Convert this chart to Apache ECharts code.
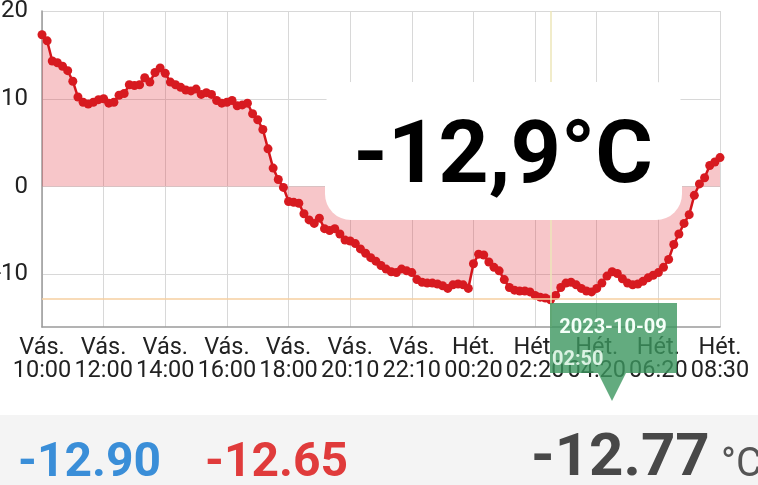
<!DOCTYPE html>
<html>
<head>
<meta charset="utf-8">
<script src="https://cdn.jsdelivr.net/npm/echarts@6/dist/echarts.min.js"></script>
<style>
html,body{margin:0;padding:0;background:#fff;}
#c{width:758px;height:485px;}
</style>
</head>
<body>
<div id="c"></div>
<script>
// ---- data ----
var days = ['Vás.', 'Hét.'];
var startTime = '10:00';
var skippedTimes = ['19:10', '23:20', '07:30'];
var temps = [
  17.3, 16.6, 14.3, 14.1, 13.7, 13.2, 12.0, 10.2, 9.6, 9.4,
  9.6, 9.9, 10.0, 9.5, 9.6, 10.4, 10.6, 11.6, 11.5, 11.6,
  12.4, 11.9, 13.0, 13.5, 12.9, 11.9, 11.6, 11.3, 11.0, 10.9,
  11.1, 10.5, 10.7, 10.5, 9.8, 9.5, 9.6, 9.8, 9.2, 9.3,
  9.5, 8.3, 7.6, 6.5, 4.3, 2.1, 0.8, -0.1, -1.7, -1.8,
  -1.9, -3.1, -3.8, -4.2, -3.6, -4.8, -5.0, -4.8, -5.4, -6.1,
  -6.2, -6.5, -7.1, -7.6, -8.1, -8.5, -9.0, -9.4, -9.7, -9.8,
  -9.4, -9.6, -9.8, -10.6, -10.9, -11.0, -11.0, -11.1, -11.3, -11.6,
  -11.2, -11.1, -11.2, -11.6, -8.8, -7.7, -7.8, -8.6, -9.2, -9.6,
  -10.6, -11.5, -11.8, -11.9, -11.9, -12.0, -12.4, -12.6, -12.7, -12.9,
  -12.4, -11.5, -11.0, -10.9, -11.2, -11.6, -11.9, -12.0, -11.6, -11.0,
  -10.2, -9.7, -9.9, -10.5, -11.0, -11.2, -11.1, -10.8, -10.4, -10.1,
  -9.8, -9.2, -8.3, -6.6, -5.4, -4.2, -3.2, -1.0, 0.3, 1.0,
  2.4, 2.8, 3.3
];
var yTicks = [-10, 0, 10, 20];
var minValue = -12.90;
var maxValue = -12.65;
var avgValue = -12.77;
var currentLabel = '-12,9°C';
var pointerDate = '2023-10-09';
var pointerTime = '02:50';

// categories: 10-minute timestamps (a few missing)
var categories = [];
(function () {
  var p = startTime.split(':');
  var m = (+p[0]) * 60 + (+p[1]);
  var day = 0;
  while (categories.length < temps.length) {
    var hh = Math.floor(m / 60) % 24, mm = m % 60;
    if (m >= 24 * 60) day = 1;
    var t = (hh < 10 ? '0' : '') + hh + ':' + (mm < 10 ? '0' : '') + mm;
    if (skippedTimes.indexOf(t) < 0) categories.push(days[day] + '\n' + t);
    m += 10;
  }
})();
var minIndex = temps.indexOf(Math.min.apply(null, temps));

var chart = echarts.init(document.getElementById('c'));
var FONT = 'Roboto, "Noto Sans", sans-serif';
chart.setOption({
  animation: false,
  backgroundColor: '#ffffff',
  textStyle: { fontFamily: FONT },
  grid: { left: 42, right: 38, top: 11, bottom: 158, containLabel: false, outerBoundsMode: 'none' },
  xAxis: {
    type: 'category',
    data: categories,
    boundaryGap: false,
    axisLine: { onZero: false, lineStyle: { color: '#9a9a9a', width: 1.5 } },
    axisTick: { show: false },
    axisLabel: {
      interval: 11, color: '#222', fontSize: 23.5, lineHeight: 23, margin: 10,
      fontFamily: FONT
    },
    splitLine: { show: true, interval: 11, lineStyle: { color: '#d8d8d8', width: 1 } }
  },
  yAxis: {
    type: 'value',
    min: -16, max: 20,
    axisLine: { show: true, onZero: false, lineStyle: { color: '#9a9a9a', width: 1.5 } },
    axisTick: { show: false, customValues: yTicks },
    axisLabel: { customValues: yTicks, color: '#222', fontSize: 24, margin: 14, fontFamily: FONT },
    splitLine: { show: true, lineStyle: { color: '#d8d8d8', width: 1 } }
  },
  series: [{
    type: 'line',
    data: temps,
    symbol: 'circle',
    symbolSize: 9,
    showSymbol: true,
    showAllSymbol: true,
    lineStyle: { color: '#d4151b', width: 2.5 },
    itemStyle: { color: '#d71a20' },
    areaStyle: { color: 'rgba(228,50,62,0.4)' },
    markLine: {
      silent: true,
      symbol: 'none',
      label: { show: false },
      data: [
        { yAxis: avgValue, lineStyle: { color: '#f6cfa0', width: 1.5, type: 'solid' } },
        { xAxis: minIndex, lineStyle: { color: '#ece6b8', width: 1.5, type: 'solid' } }
      ]
    }
  }],
  graphic: [
    {
      type: 'rect', z: 100,
      shape: { x: 325, y: 82, width: 357, height: 138, r: 26 },
      style: { fill: '#ffffff' }
    },
    {
      type: 'text', z: 101, x: 503, y: 160,
      style: { text: currentLabel, fill: '#000', font: 'bold 88px ' + FONT, align: 'center', verticalAlign: 'middle' }
    },
    {
      type: 'rect', z: 100,
      shape: { x: 550, y: 303, width: 127, height: 70 },
      style: { fill: 'rgba(60,150,95,0.8)' }
    },
    {
      type: 'polygon', z: 100,
      shape: { points: [[598, 373], [626, 373], [612, 401]] },
      style: { fill: 'rgba(60,150,95,0.8)' }
    },
    {
      type: 'text', z: 101, x: 613, y: 328,
      style: { text: pointerDate, fill: '#f4fff8', font: 'bold 20px ' + FONT, align: 'center', verticalAlign: 'middle' }
    },
    {
      type: 'text', z: 101, x: 552, y: 360,
      style: { text: pointerTime, fill: 'rgba(240,255,245,0.85)', font: 'bold 20px ' + FONT, align: 'left', verticalAlign: 'middle' }
    },
    {
      type: 'rect', z: 90,
      shape: { x: 0, y: 415, width: 758, height: 70 },
      style: { fill: '#f4f4f4' }
    },
    {
      type: 'text', z: 91, x: 18, y: 464,
      style: { text: minValue.toFixed(2), fill: '#3a8ed8', font: 'bold 48px ' + FONT, align: 'left', verticalAlign: 'middle' }
    },
    {
      type: 'text', z: 91, x: 205, y: 464,
      style: { text: maxValue.toFixed(2), fill: '#e03b3b', font: 'bold 48px ' + FONT, align: 'left', verticalAlign: 'middle' }
    },
    {
      type: 'text', z: 91, x: 531, y: 460,
      style: { text: avgValue.toFixed(2), fill: '#484848', font: 'bold 60px ' + FONT, align: 'left', verticalAlign: 'middle' }
    },
    {
      type: 'text', z: 91, x: 721, y: 466,
      style: { text: '°C', fill: '#555', font: '40px ' + FONT, align: 'left', verticalAlign: 'middle' }
    }
  ]
});
</script>
</body>
</html>
